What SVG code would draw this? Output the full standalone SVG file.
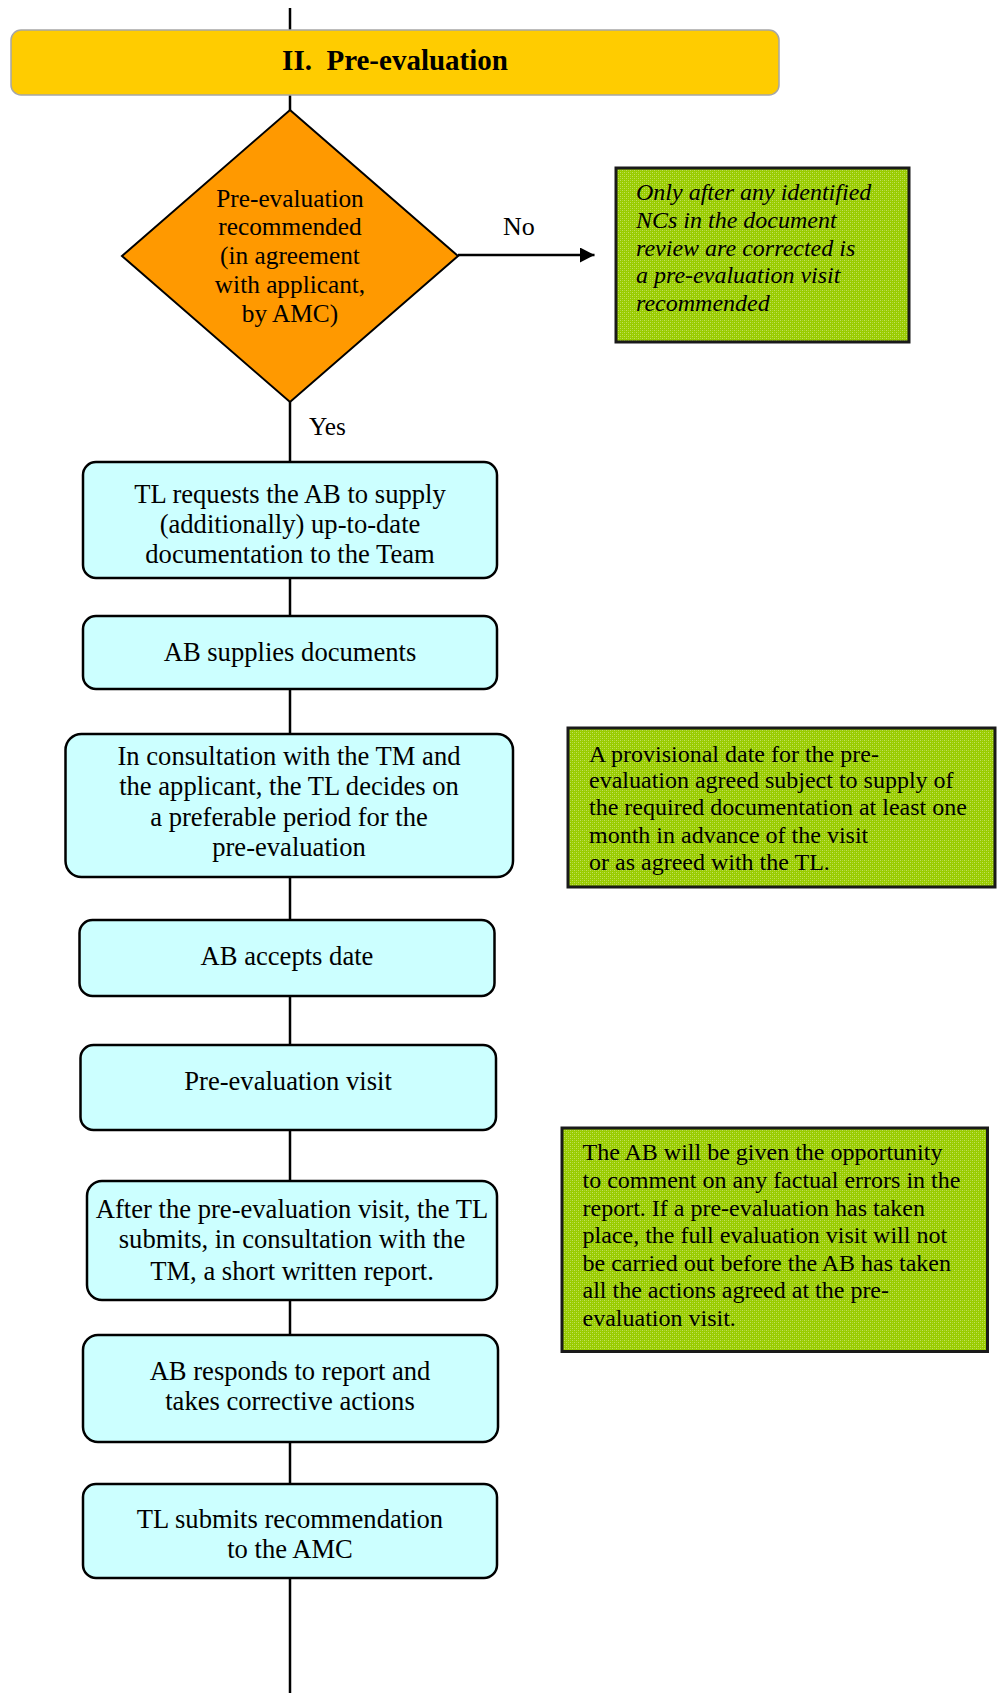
<svg xmlns="http://www.w3.org/2000/svg" width="997" height="1693" viewBox="0 0 997 1693">
<style>
.box{fill:#CCFFFF;stroke:#000;stroke-width:2.5}
.note{fill:url(#dots);stroke:#1a1a1a;stroke-width:3}
.t{font-family:"Liberation Serif","Times New Roman",serif;fill:#000}
.bt{font-size:26.6px;text-anchor:middle}
.dt{font-size:25.3px;text-anchor:middle}
.nt{font-size:24px}
.it{font-style:italic}
.con{stroke:#000;stroke-width:2.5;fill:none}
</style>
<defs>
<pattern id="dots" width="4" height="4" patternUnits="userSpaceOnUse">
<rect width="4" height="4" fill="#99CC00"/>
<rect x="0" y="0" width="1" height="1" fill="#C2E060"/>
<rect x="2" y="2" width="1" height="1" fill="#C2E060"/>
<rect x="2" y="0" width="1" height="1" fill="#ADD630"/>
<rect x="0" y="2" width="1" height="1" fill="#ADD630"/>
</pattern>
<marker id="arr" markerWidth="15" markerHeight="15" refX="14.5" refY="7.5" orient="auto" markerUnits="userSpaceOnUse">
<path d="M0,0 L14.5,7.5 L0,15 Z" fill="#000"/>
</marker>
</defs>

<g id="connectors">
<line class="con" x1="290" y1="8" x2="290" y2="30"/>
<line class="con" x1="290" y1="95" x2="290" y2="110"/>
<line class="con" x1="290" y1="402" x2="290" y2="462"/>
<line class="con" x1="290" y1="578" x2="290" y2="616"/>
<line class="con" x1="290" y1="689" x2="290" y2="734"/>
<line class="con" x1="290" y1="877" x2="290" y2="920"/>
<line class="con" x1="290" y1="996" x2="290" y2="1045"/>
<line class="con" x1="290" y1="1130" x2="290" y2="1181"/>
<line class="con" x1="290" y1="1300" x2="290" y2="1335"/>
<line class="con" x1="290" y1="1442" x2="290" y2="1484"/>
<line class="con" x1="290" y1="1578" x2="290" y2="1693"/>
<line class="con" x1="458" y1="255" x2="594.5" y2="255" marker-end="url(#arr)"/>
<text class="t" x="503" y="235" font-size="26">No</text>
<text class="t" x="309" y="435" font-size="25.3">Yes</text>
</g>

<g id="title">
<rect x="11" y="30" width="768" height="65" rx="10" fill="#FFCC00" stroke="#A6A6A6" stroke-width="1.5"/>
<text class="t" x="395" y="70" font-size="29" font-weight="bold" text-anchor="middle" xml:space="preserve">II.  Pre-evaluation</text>
</g>

<g id="decision">
<polygon points="290,110 458,256 290,402 122,256" fill="#FF9900" stroke="#000" stroke-width="2"/>
<text class="t dt" x="290" y="207">Pre-evaluation</text>
<text class="t dt" x="290" y="235">recommended</text>
<text class="t dt" x="290" y="264">(in agreement</text>
<text class="t dt" x="290" y="293">with applicant,</text>
<text class="t dt" x="290" y="322">by AMC)</text>
</g>

<g id="note-no">
<rect class="note" x="616" y="168" width="293" height="174"/>
<text class="t nt it" x="636" y="200">Only after any identified</text>
<text class="t nt it" x="636" y="228">NCs in the document</text>
<text class="t nt it" x="636" y="256">review are corrected is</text>
<text class="t nt it" x="636" y="283">a pre-evaluation visit</text>
<text class="t nt it" x="636" y="311">recommended</text>
</g>

<g id="box-request">
<rect class="box" x="83" y="462" width="414" height="116" rx="13"/>
<text class="t bt" x="290" y="503">TL requests the AB to supply</text>
<text class="t bt" x="290" y="533">(additionally) up-to-date</text>
<text class="t bt" x="290" y="563">documentation to the Team</text>
</g>

<g id="box-supplies">
<rect class="box" x="83" y="616" width="414" height="73" rx="13"/>
<text class="t bt" x="290" y="661">AB supplies documents</text>
</g>

<g id="box-consult">
<rect class="box" x="65.5" y="734" width="447.5" height="143" rx="16"/>
<text class="t bt" x="289" y="765">In consultation with the TM and</text>
<text class="t bt" x="289" y="795">the applicant, the TL decides on</text>
<text class="t bt" x="289" y="826">a preferable period for the</text>
<text class="t bt" x="289" y="856">pre-evaluation</text>
</g>

<g id="note-date">
<rect class="note" x="568" y="728" width="427" height="159"/>
<text class="t nt" x="589" y="762">A provisional date for the pre-</text>
<text class="t nt" x="589" y="788">evaluation agreed subject to supply of</text>
<text class="t nt" x="589" y="815">the required documentation at least one</text>
<text class="t nt" x="589" y="843">month in advance of the visit</text>
<text class="t nt" x="589" y="870">or as agreed with the TL.</text>
</g>

<g id="box-accepts">
<rect class="box" x="79.5" y="920" width="415" height="76" rx="13"/>
<text class="t bt" x="287" y="965">AB accepts date</text>
</g>

<g id="box-visit">
<rect class="box" x="80.5" y="1045" width="415.5" height="85" rx="13"/>
<text class="t bt" x="288" y="1090">Pre-evaluation visit</text>
</g>

<g id="box-report">
<rect class="box" x="87" y="1181" width="410" height="119" rx="15"/>
<text class="t bt" x="292" y="1218">After the pre-evaluation visit, the TL</text>
<text class="t bt" x="292" y="1248">submits, in consultation with the</text>
<text class="t bt" x="292" y="1280">TM, a short written report.</text>
</g>

<g id="note-report">
<rect class="note" x="562" y="1128" width="425.5" height="223.5"/>
<text class="t nt" x="582.5" y="1160">The AB will be given the opportunity</text>
<text class="t nt" x="582.5" y="1188">to comment on any factual errors in the</text>
<text class="t nt" x="582.5" y="1216">report. If a pre-evaluation has taken</text>
<text class="t nt" x="582.5" y="1243">place, the full evaluation visit will not</text>
<text class="t nt" x="582.5" y="1271">be carried out before the AB has taken</text>
<text class="t nt" x="582.5" y="1298">all the actions agreed at the pre-</text>
<text class="t nt" x="582.5" y="1326">evaluation visit.</text>
</g>

<g id="box-responds">
<rect class="box" x="83" y="1335" width="415" height="107" rx="15"/>
<text class="t bt" x="290" y="1380">AB responds to report and</text>
<text class="t bt" x="290" y="1410">takes corrective actions</text>
</g>

<g id="box-recommend">
<rect class="box" x="83" y="1484" width="414" height="94" rx="13"/>
<text class="t bt" x="290" y="1528">TL submits recommendation</text>
<text class="t bt" x="290" y="1558">to the AMC</text>
</g>
</svg>
